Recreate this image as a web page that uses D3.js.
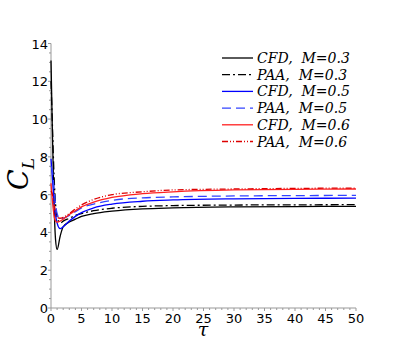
<!DOCTYPE html>
<html>
<head>
<meta charset="utf-8">
<script src="https://cdn.jsdelivr.net/npm/d3@7"></script>
<style>
  body { margin: 0; background: #fff; }
  svg { display: block; }
</style>
</head>
<body>
<svg width="407" height="353"></svg>
<script>
// sample times (tau) and lift coefficient for each run
const tau = [0, 0.25, 0.5, 0.75, 1, 1.5, 2, 3, 4, 5, 7, 10, 15, 20, 30, 40, 50];

const cfd03 = [13.1, 9.0, 5.5, 3.6, 3.1, 3.8, 4.3, 4.55, 4.7, 4.85, 5.0, 5.13, 5.25, 5.3, 5.35, 5.37, 5.38];
const paa03 = [12.0, 9.5, 7.0, 5.5, 4.8, 4.5, 4.6, 4.75, 4.9, 5.0, 5.15, 5.28, 5.38, 5.42, 5.45, 5.46, 5.47];
const cfd05 = [7.9, 6.8, 5.6, 4.9, 4.5, 4.2, 4.3, 4.6, 4.85, 5.05, 5.3, 5.5, 5.65, 5.72, 5.78, 5.8, 5.82];
const paa05 = [7.5, 7.2, 6.3, 5.5, 5.0, 4.7, 4.75, 4.9, 5.1, 5.3, 5.5, 5.7, 5.83, 5.88, 5.93, 5.95, 5.96];
const cfd06 = [6.6, 5.6, 4.9, 4.6, 4.55, 4.6, 4.7, 4.95, 5.15, 5.35, 5.6, 5.85, 6.05, 6.15, 6.25, 6.28, 6.3];
const paa06 = [6.2, 6.0, 5.5, 5.0, 4.8, 4.75, 4.8, 5.0, 5.25, 5.45, 5.75, 6.0, 6.15, 6.25, 6.3, 6.33, 6.35];

const labels = ["CFD,  M=0.3", "PAA,  M=0.3", "CFD,  M=0.5", "PAA,  M=0.5", "CFD,  M=0.6", "PAA,  M=0.6"];
const colors = ["#000", "#000", "#0000ff", "#3344ff", "#ff2020", "#dd0000"];
const dashes = [null, "8,3,2,3", null, "9,5", null, "6,2,1,2,1,2"];
const series = [cfd03, paa03, cfd05, paa05, cfd06, paa06];

const xTicks = d3.range(0, 51, 5);
const yTicks = d3.range(0, 15, 2);

const svg = d3.select("svg");
const x = d3.scaleLinear().domain([0, 50]).range([51, 356]);
const y = d3.scaleLinear().domain([0, 14]).range([308, 43.5]);

const axisColor = "#999";

// minor ticks
svg.append("g").selectAll("line")
  .data(d3.range(0, 51, 1))
  .enter().append("line")
    .attr("x1", d => x(d)).attr("x2", d => x(d))
    .attr("y1", 308).attr("y2", d => d % 5 === 0 ? 311 : 310)
    .attr("stroke", axisColor).attr("stroke-width", 1);

svg.append("g").selectAll("line")
  .data(d3.range(0, 14.01, 0.5))
  .enter().append("line")
    .attr("y1", d => y(d)).attr("y2", d => y(d))
    .attr("x1", 51).attr("x2", d => d % 2 === 0 ? 48 : 49)
    .attr("stroke", axisColor).attr("stroke-width", 1);

// axis lines
svg.append("line").attr("x1", 51).attr("x2", 51).attr("y1", y(14)).attr("y2", 308)
  .attr("stroke", axisColor).attr("stroke-width", 1);
svg.append("line").attr("x1", 51).attr("x2", 356).attr("y1", 308).attr("y2", 308)
  .attr("stroke", axisColor).attr("stroke-width", 1);

// tick labels
svg.append("g").selectAll("text")
  .data(xTicks)
  .enter().append("text")
    .attr("x", d => x(d)).attr("y", 323)
    .attr("text-anchor", "middle")
    .style("font-family", "DejaVu Sans").style("font-size", "13px")
    .text(d => d);

svg.append("g").selectAll("text")
  .data(yTicks)
  .enter().append("text")
    .attr("x", 48).attr("y", d => y(d) + 5)
    .attr("text-anchor", "end")
    .style("font-family", "DejaVu Sans").style("font-size", "13px")
    .text(d => d);

// axis titles
svg.append("text")
  .attr("x", 203).attr("y", 336)
  .attr("text-anchor", "middle")
  .style("font-family", "DejaVu Serif").style("font-style", "italic").style("font-size", "19px")
  .text("τ");

const yl = svg.append("text")
  .attr("transform", "translate(28,174) rotate(-90)")
  .attr("text-anchor", "middle")
  .style("font-family", "DejaVu Serif").style("font-style", "italic").style("font-size", "27px");
yl.append("tspan").text("C");
yl.append("tspan").attr("dy", 6).style("font-size", "17px").text("L");

// curves
const line = d3.line()
  .x((d, i) => x(tau[i]))
  .y(d => y(d))
  .curve(d3.curveMonotoneX);

svg.append("g").selectAll("path")
  .data(series)
  .enter().append("path")
    .attr("d", line)
    .attr("fill", "none")
    .attr("stroke", (d, i) => colors[i])
    .attr("stroke-width", 1.3)
    .attr("stroke-dasharray", (d, i) => dashes[i]);

// legend
const leg = svg.append("g").selectAll("g")
  .data(labels)
  .enter().append("g")
    .attr("transform", (d, i) => `translate(222,${58 + i * 16.7})`);

leg.append("line")
  .attr("x1", 0).attr("x2", 31).attr("y1", 0).attr("y2", 0)
  .attr("stroke", (d, i) => colors[i])
  .attr("stroke-width", 1.3)
  .attr("stroke-dasharray", (d, i) => dashes[i]);

leg.append("text")
  .attr("x", 35).attr("y", 5)
  .style("font-family", "DejaVu Serif").style("font-style", "italic").style("font-size", "14px")
  .style("white-space", "pre")
  .text(d => d);
</script>
</body>
</html>
